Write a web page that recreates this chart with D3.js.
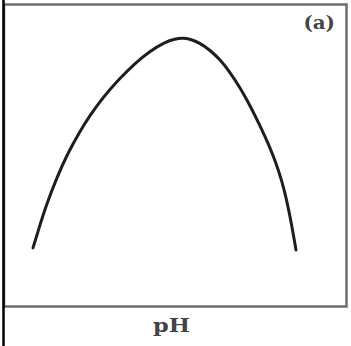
<!DOCTYPE html>
<html>
<head>
<meta charset="utf-8">
<script src="https://cdn.jsdelivr.net/npm/d3@7"></script>
<style>
	body { margin: 0; background: #fff; }
	svg { display: block; }
</style>
</head>
<body>
<div id="chart"></div>
<script>
// curve: pH against relative rate (0-100)
const phValues = [3.0, 3.19, 3.37, 3.64, 3.9, 4.25, 4.52, 4.78, 5.05, 5.32, 5.71, 6.11, 6.51, 6.78, 6.99,
	7.18, 7.45, 7.71, 7.98, 8.24, 8.51, 8.78, 9.04, 9.31, 9.47, 9.63, 9.76, 9.89, 10.0]
const rateValues = [1, 12.1, 22, 34.3, 44.8, 56.1, 63.5, 70, 75.8, 81.1, 88, 93.8, 98, 99.6, 100,
	99.5, 97.6, 94.3, 89.8, 83.9, 76.6, 68.1, 58.7, 48.3, 40.9, 32.2, 23, 11.4, 0]
const panelLabel = "(a)"
const xLabel = "pH"

const params = {
	selector: "#chart",
	width: 351,
	height: 346,
	frame: { x0: 4, y0: 4.5, x1: 346.5, y1: 306.5 }
}

const makeContainer = (params) => {
	return d3.select(params.selector)
		.append("svg")
		.attr("width", params.width)
		.attr("height", params.height)
}

const makeScales = (params) => {
	const xScale = d3.scaleLinear()
		.domain([3, 10])
		.range([33, 296])
	const yScale = d3.scaleLinear()
		.domain([0, 100])
		.range([250, 38])
	return [xScale, yScale];
}

const drawFrame = (svg, params) => {
	const f = params.frame
	svg.append("rect")
		.attr("x", f.x0)
		.attr("y", f.y0)
		.attr("width", f.x1 - f.x0)
		.attr("height", f.y1 - f.y0)
		.attr("fill", "none")
		.attr("stroke", "#6e6e6e")
		.attr("stroke-width", 2.5)

	// dark rule down the left side of the page
	svg.append("line")
		.attr("x1", 3.5).attr("x2", 3.5)
		.attr("y1", 0).attr("y2", params.height)
		.attr("stroke", "#000")
		.attr("stroke-width", 2.5)
}

const drawCurve = (svg, xScale, yScale) => {
	const data = phValues.map((p, i) => ({ ph: p, rate: rateValues[i] }))
	const line = d3.line()
		.x(d => xScale(d.ph))
		.y(d => yScale(d.rate))
		.curve(d3.curveBasis)

	svg.append("path")
		.datum(data)
		.attr("fill", "none")
		.attr("stroke", "#1e1e1e")
		.attr("stroke-width", 3)
		.attr("stroke-linecap", "round")
		.attr("d", line)
}

const drawLabels = (svg) => {
	svg.append("text")
		.attr("transform", "translate(335, 29) scale(1.1, 1)")
		.attr("text-anchor", "end")
		.attr("font-family", "DejaVu Serif")
		.attr("font-weight", "bold")
		.attr("font-size", 18)
		.attr("fill", "#444")
		.text(panelLabel)

	svg.append("text")
		.attr("transform", "translate(171.5, 332) scale(1.25, 1)")
		.attr("text-anchor", "middle")
		.attr("font-family", "DejaVu Serif")
		.attr("font-weight", "bold")
		.attr("font-size", 18)
		.attr("fill", "#444")
		.text(xLabel)
}

const main = () => {
	const svg = makeContainer(params)
	const [xScale, yScale] = makeScales(params)
	drawFrame(svg, params)
	drawCurve(svg, xScale, yScale)
	drawLabels(svg)
}

main()
</script>
</body>
</html>
